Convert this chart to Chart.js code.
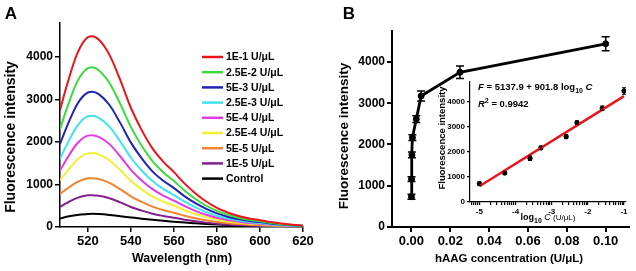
<!DOCTYPE html>
<html><head><meta charset="utf-8">
<script src="https://cdn.jsdelivr.net/npm/chart.js@4.4.0/dist/chart.umd.min.js"></script>
<style>
html,body{margin:0;padding:0;background:#fff;width:636px;height:271px;overflow:hidden;}
canvas{position:absolute;}
#cA{left:0;top:0;width:318px;height:271px;}
#cB{left:318px;top:0;width:318px;height:271px;}
#cI{left:420px;top:75px;width:216px;height:160px;}
</style></head><body>
<canvas id="cA" width="318" height="271"></canvas>
<canvas id="cB" width="318" height="271"></canvas>
<canvas id="cI" width="216" height="160"></canvas>
<script>
// ---------- Panel A data ----------
const wavelengths = [507,510,515,520,522,525,530,535,540,545,550,555,560,565,570,575,580,585,590,595,600,605,610,615,620];
const seriesLabels = ['1E-1 U/\u03bcL','2.5E-2 U/\u03bcL','5E-3 U/\u03bcL','2.5E-3 U/\u03bcL','5E-4 U/\u03bcL','2.5E-4 U/\u03bcL','5E-5 U/\u03bcL','1E-5 U/\u03bcL','Control'];
const seriesColors = ['#e8151b','#3cdb3c','#2124b2','#42e3ee','#e23ae2','#f0f034','#ef8530','#84208e','#000000'];
const int_1Em1   = [2750,3300,4080,4470,4490,4410,4050,3460,2800,2280,1850,1540,1290,1020,790,600,450,340,260,200,160,115,80,55,35];
const int_2_5Em2 = [2300,2760,3420,3740,3760,3690,3390,2900,2350,1910,1550,1290,1080,855,660,500,380,285,220,170,135,95,67,46,30];
const int_5Em3   = [1950,2340,2890,3165,3180,3125,2870,2450,1985,1615,1310,1090,915,720,560,425,320,240,185,140,115,80,57,39,25];
const int_2_5Em3 = [1600,1920,2375,2605,2615,2570,2360,2015,1630,1330,1080,895,750,595,460,350,262,198,150,116,93,67,47,32,20];
const int_5Em4   = [1325,1590,1965,2150,2160,2120,1950,1665,1345,1095,890,740,620,490,380,290,216,164,125,96,77,55,38,26,17];
const int_2_5Em4 = [1100,1290,1585,1732,1740,1708,1570,1340,1085,885,718,597,500,395,306,233,174,132,101,78,62,45,31,21,14];
const int_5Em5   = [780,890,1055,1145,1150,1130,1040,890,720,590,480,400,335,265,205,158,118,90,69,53,42,30,21,14,9];
const int_1Em5   = [470,560,685,746,750,737,678,580,470,385,312,260,218,173,135,103,78,59,45,35,28,20,14,9,6];
const int_control= [200,240,285,305,310,305,285,255,225,195,168,145,125,105,88,72,58,46,36,28,22,16,12,8,5];
const seriesA = [int_1Em1,int_2_5Em2,int_5Em3,int_2_5Em3,int_5Em4,int_2_5Em4,int_5Em5,int_1Em5,int_control];
const xTicksA = [520,540,560,580,600,620];
const yTicksA = [0,1000,2000,3000,4000];

// ---------- Panel B data ----------
const concentrations = [0.00001,0.00005,0.00025,0.0005,0.0025,0.005,0.025,0.1];
const intensities    = [735,1160,1750,2165,2615,3175,3750,4440];
const errorsB        = [60,60,70,70,80,120,150,170];
const xTicksB = [0,0.02,0.04,0.06,0.08,0.10];
const yTicksB = [0,1000,2000,3000,4000];

// ---------- Inset data ----------
const logConc       = [-5,-4.3,-3.6,-3.3,-2.6,-2.3,-1.6,-1];
const errorsInset   = [70,60,90,70,80,70,90,130];
const fitX = [-5,-1];
const fitY = [629,4236];
const xMajorInset = [-5,-4,-3,-2,-1];
const yTicksInset = [0,1000,2000,3000,4000];

const FF = '"Liberation Sans", Arial, Helvetica, sans-serif';
const f = (s, st) => (st || 'bold') + ' ' + s + 'px ' + FF;

function drawRich(ctx, x, y, parts, align) {
  let w = 0;
  parts.forEach(p => { ctx.font = p.f; w += ctx.measureText(p.t).width; });
  let cx = align === 'center' ? x - w / 2 : x;
  ctx.textAlign = 'left'; ctx.textBaseline = 'alphabetic';
  parts.forEach(p => { ctx.font = p.f; ctx.fillText(p.t, cx, y + (p.dy || 0)); cx += ctx.measureText(p.t).width; });
}

const errorBars = { id: 'errorBars', afterDatasetsDraw(chart) {
  const ctx = chart.ctx, xs = chart.scales.x, ys = chart.scales.y;
  chart.data.datasets.forEach(ds => {
    if (!ds.errors) return;
    ctx.save(); ctx.strokeStyle = '#000'; ctx.lineWidth = ds.errWidth; 
    ds.data.forEach((p, i) => {
      const px = xs.getPixelForValue(p.x), e = ds.errors[i];
      const y1 = ys.getPixelForValue(p.y - e), y2 = ys.getPixelForValue(p.y + e), c = ds.capHalf;
      ctx.beginPath();
      ctx.moveTo(px, y1); ctx.lineTo(px, y2);
      ctx.moveTo(px - c, y1); ctx.lineTo(px + c, y1);
      ctx.moveTo(px - c, y2); ctx.lineTo(px + c, y2);
      ctx.stroke();
    });
    ctx.restore();
  });
}};

function axis(min, max, ticks, fit, fontSize, tickLen, bw, cb) {
  return {
    type: 'linear', min: min, max: max,
    afterBuildTicks: s => { s.ticks = ticks.map(v => ({ value: v })); },
    afterFit: fit,
    grid: { drawOnChartArea: false, drawTicks: true, tickLength: tickLen, color: '#000', lineWidth: bw },
    border: { display: true, color: '#000', width: bw },
    ticks: { color: '#000', font: { family: FF, size: fontSize, weight: 'bold' }, padding: 2, maxRotation: 0, autoSkip: false, callback: cb }
  };
}

// ---------- Chart A ----------
const decoA = { id: 'decoA', afterDraw(chart) {
  const ctx = chart.ctx; ctx.save(); ctx.fillStyle = '#000';
  ctx.textAlign = 'center'; ctx.textBaseline = 'middle';
  ctx.font = f(17); ctx.fillText('A', 11, 14);
  ctx.save(); ctx.translate(11, 137); ctx.rotate(-Math.PI / 2);
  ctx.font = f(14); ctx.fillText('Fluorescence intensity', 0, 0); ctx.restore();
  ctx.font = f(12.5); ctx.fillText('Wavelength (nm)', 182, 259);
  chart.data.datasets.forEach((ds, i) => {
    const y = 57 + i * 15.2;
    ctx.strokeStyle = ds.borderColor; ctx.lineWidth = 2.5;
    ctx.beginPath(); ctx.moveTo(202, y); ctx.lineTo(223, y); ctx.stroke();
    ctx.textAlign = 'left'; ctx.font = f(10.5);
    ctx.fillText(ds.label, 226, y + 0.5);
  });
  ctx.restore();
}};

new Chart(document.getElementById('cA'), {
  type: 'line',
  data: { datasets: seriesA.map((s, i) => ({
    label: seriesLabels[i],
    data: wavelengths.map((w, j) => ({ x: w, y: s[j] })),
    borderColor: seriesColors[i], borderWidth: 2, pointRadius: 0,
    cubicInterpolationMode: 'monotone', fill: false })) },
  options: {
    responsive: false, animation: false, devicePixelRatio: 1,
    layout: { padding: { left: 0, right: 15, top: 23, bottom: 0 } },
    plugins: { legend: { display: false }, tooltip: { enabled: false } },
    scales: {
      x: axis(507, 620, xTicksA, s => { s.height = 44; }, 13, 5, 1.5),
      y: axis(0, 4800, yTicksA, s => { s.width = 60; }, 12, 5, 1.5)
    }
  },
  plugins: [decoA]
});

// ---------- Chart B ----------
const decoB = { id: 'decoB', afterDraw(chart) {
  const ctx = chart.ctx; ctx.save(); ctx.fillStyle = '#000';
  ctx.textAlign = 'center'; ctx.textBaseline = 'middle';
  ctx.font = f(17); ctx.fillText('B', 31, 14);
  ctx.save(); ctx.translate(26, 136); ctx.rotate(-Math.PI / 2);
  ctx.font = f(13.5); ctx.fillText('Fluorescence intensity', 0, 0); ctx.restore();
  ctx.font = f(11.5); ctx.fillText('hAAG concentration (U/\u03bcL)', 191, 259);
  ctx.restore();
}};

new Chart(document.getElementById('cB'), {
  type: 'line',
  data: { datasets: [{
    label: 'hAAG',
    data: concentrations.map((c, i) => ({ x: c, y: intensities[i] })),
    borderColor: '#000', borderWidth: 2.8, pointRadius: 3, pointBorderWidth: 1,
    pointBackgroundColor: '#000', pointBorderColor: '#000', tension: 0,
    errors: errorsB, errWidth: 1.5, capHalf: 4 }] },
  options: {
    responsive: false, animation: false, devicePixelRatio: 1,
    layout: { padding: { left: 0, right: 7, top: 31, bottom: 0 } },
    plugins: { legend: { display: false }, tooltip: { enabled: false } },
    scales: {
      x: axis(-0.01, 0.112, xTicksB, s => { s.height = 44; }, 13, 5, 2, v => v.toFixed(2)),
      y: axis(0, 4750, yTicksB, s => { s.width = 74; }, 12, 5, 2)
    }
  },
  plugins: [errorBars, decoB]
});

// ---------- Inset ----------
const minorInset = [];
for (let d = -6; d <= -2; d++) for (let k = 2; k <= 9; k++) {
  const v = d + Math.log10(k);
  if (v > -5.26 && v < -0.945) minorInset.push(v);
}
const insetXTicks = xMajorInset.concat(minorInset).sort((a, b) => a - b);

const decoI = { id: 'decoI', afterDraw(chart) {
  const ctx = chart.ctx; ctx.save(); ctx.fillStyle = '#000';
  drawRich(ctx, 58, 14.5, [
    { t: 'F', f: f(9.5, 'italic bold') },
    { t: ' = 5137.9 + 901.8 log', f: f(9.5) },
    { t: '10', f: f(7), dy: 3 },
    { t: ' ', f: f(9.5) },
    { t: 'C', f: f(9.5, 'italic bold') }], 'left');
  drawRich(ctx, 58, 31.5, [
    { t: 'R', f: f(9.5, 'italic bold') },
    { t: '2', f: f(7), dy: -4 },
    { t: ' = 0.9942', f: f(9.5) }], 'left');
  drawRich(ctx, 128, 145, [
    { t: 'log', f: f(9) },
    { t: '10', f: f(7), dy: 3 },
    { t: ' ', f: f(9) },
    { t: 'C', f: f(9, 'italic') },
    { t: ' (U/\u03bcL)', f: f(8, 'normal') }], 'center');
  ctx.save(); ctx.translate(22, 63); ctx.rotate(-Math.PI / 2);
  ctx.textAlign = 'center'; ctx.textBaseline = 'middle';
  ctx.font = f(9.5); ctx.fillText('Fluorescence intensity', 0, 0); ctx.restore();
  ctx.restore();
}};

new Chart(document.getElementById('cI'), {
  type: 'line',
  data: { datasets: [
    { label: 'fit', data: fitX.map((x, i) => ({ x: x, y: fitY[i] })),
      borderColor: '#e8151b', borderWidth: 2.5, pointRadius: 0, tension: 0 },
    { label: 'data', data: logConc.map((x, i) => ({ x: x, y: intensities[i] })),
      showLine: false, pointRadius: 2.2, pointBackgroundColor: '#000', pointBorderColor: '#000',
      errors: errorsInset, errWidth: 1, capHalf: 2 }
  ] },
  options: {
    responsive: false, animation: false, devicePixelRatio: 1,
    layout: { padding: { left: 0, right: 10, top: 7, bottom: 0 } },
    plugins: { legend: { display: false }, tooltip: { enabled: false } },
    scales: {
      x: axis(-5.26, -0.945, insetXTicks, s => { s.height = 33; }, 8, 3, 1.2,
              v => (xMajorInset.indexOf(v) >= 0 ? String(v) : '')),
      y: axis(0, 4800, yTicksInset, s => { s.width = 50; }, 8, 3, 1.2)
    }
  },
  plugins: [errorBars, decoI]
});
</script>
</body></html>
